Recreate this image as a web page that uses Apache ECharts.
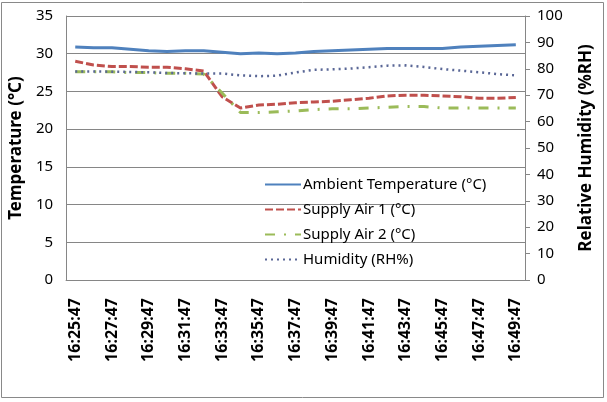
<!DOCTYPE html>
<html><head><meta charset="utf-8">
<script src="https://cdn.jsdelivr.net/npm/echarts@6/dist/echarts.min.js"></script>
<style>html,body{margin:0;padding:0;background:#fff}#c{width:607px;height:402px}</style>
</head><body><div id="c"></div>
<script>
const times = ['16:25:47','16:26:47','16:27:47','16:28:47','16:29:47','16:30:47','16:31:47','16:32:47','16:33:47','16:34:47','16:35:47','16:36:47','16:37:47','16:38:47','16:39:47','16:40:47','16:41:47','16:42:47','16:43:47','16:44:47','16:45:47','16:46:47','16:47:47','16:48:47','16:49:47'];
const ambient = [30.9,30.8,30.8,30.6,30.4,30.3,30.4,30.4,30.2,30.0,30.1,30.0,30.1,30.3,30.4,30.5,30.6,30.7,30.7,30.7,30.7,30.9,31.0,31.1,31.2];
const supply1 = [29.0,28.5,28.3,28.3,28.2,28.2,28.0,27.7,24.3,22.8,23.2,23.3,23.5,23.6,23.7,23.9,24.1,24.4,24.5,24.5,24.4,24.3,24.1,24.1,24.2];
const supply2 = [27.6,27.6,27.6,27.5,27.5,27.4,27.4,27.3,24.8,22.2,22.2,22.3,22.4,22.6,22.7,22.7,22.8,22.9,23.0,23.0,22.8,22.8,22.8,22.8,22.8];
const humidity = [79.0,79.0,78.9,78.8,78.7,78.4,78.3,78.2,78.2,77.5,77.2,77.4,78.6,79.6,79.8,80.1,80.6,81.2,81.3,80.7,79.9,79.3,78.7,78.0,77.5];
const names = ['Ambient Temperature (°C)','Supply Air 1 (°C)','Supply Air 2 (°C)','Humidity (RH%)'];

const FONT = '"Noto Sans", "Open Sans", sans-serif';
const chart = echarts.init(document.getElementById('c'), null, {renderer:'canvas'});
chart.setOption({
  animation:false,
  backgroundColor:'#fff',
  textStyle:{fontFamily:FONT},
  graphic:[{type:'rect',shape:{x:1.5,y:2.5,width:602,height:395},style:{fill:'none',stroke:'#898989',lineWidth:1},silent:true}],
  grid:{left:64,right:82,top:16,bottom:122},
  legend:{
    orient:'vertical',left:259,top:172,itemWidth:36,itemHeight:14,itemGap:10,
    itemStyle:{opacity:0},
    textStyle:{fontSize:15,color:'#000',fontFamily:FONT,padding:[0,0,0,-3]},
    data:names
  },
  xAxis:{
    type:'category',data:times,boundaryGap:true,
    axisLine:{lineStyle:{color:'#868686'}},
    axisTick:{show:false},
    axisLabel:{interval:1,rotate:90,fontSize:16,fontWeight:'bold',color:'#000',margin:18,fontFamily:FONT},
    splitLine:{show:false}
  },
  yAxis:[{
    type:'value',min:0,max:35,interval:5,
    name:'Temperature (°C)',nameLocation:'middle',nameGap:40,
    nameTextStyle:{fontSize:17,fontWeight:'bold',color:'#000',fontFamily:FONT},
    axisLine:{show:true,lineStyle:{color:'#868686'}},
    axisTick:{show:false},
    axisLabel:{fontSize:15,color:'#000',margin:13,fontFamily:FONT},
    splitLine:{lineStyle:{color:'#868686',width:1}}
  },{
    type:'value',min:0,max:100,interval:10,position:'right',
    name:'Relative Humidity (%RH)',nameLocation:'middle',nameGap:53,nameRotate:90,
    nameTextStyle:{fontSize:17,fontWeight:'bold',color:'#000',fontFamily:FONT},
    axisLine:{show:true,lineStyle:{color:'#868686'}},
    axisTick:{show:true,length:5,lineStyle:{color:'#868686'}},
    axisLabel:{fontSize:15,color:'#000',margin:12,fontFamily:FONT},
    splitLine:{show:false}
  }],
  series:[
    {name:names[0],type:'line',yAxisIndex:0,data:ambient,symbol:'none',smooth:false,
     lineStyle:{color:'#4F81BD',width:3},itemStyle:{color:'#4F81BD'}},
    {name:names[1],type:'line',yAxisIndex:0,data:supply1,symbol:'none',
     lineStyle:{color:'#C0504D',width:3,type:[8,3]},itemStyle:{color:'#C0504D'}},
    {name:names[2],type:'line',yAxisIndex:0,data:supply2,symbol:'none',
     lineStyle:{color:'#9BBB59',width:3,type:[10,9,2,9]},itemStyle:{color:'#9BBB59'}},
    {name:names[3],type:'line',yAxisIndex:1,data:humidity,symbol:'none',
     lineStyle:{color:'#5A6796',width:2.5,type:[2,4]},itemStyle:{color:'#5A6796'}}
  ]
});
</script></body></html>
